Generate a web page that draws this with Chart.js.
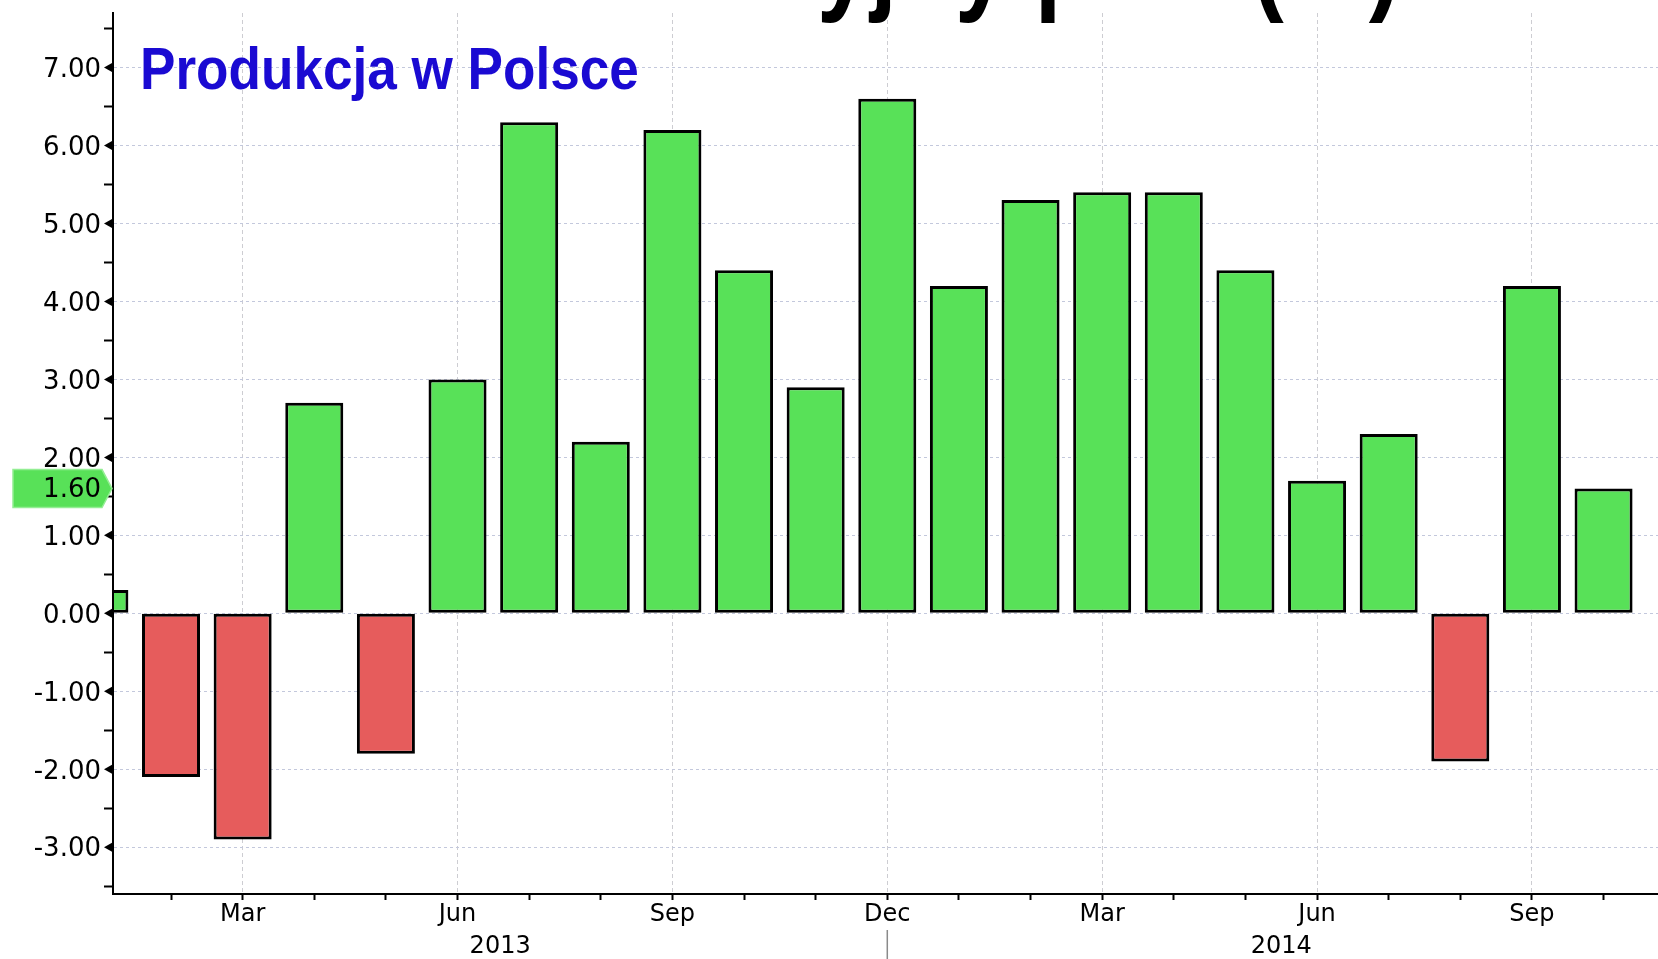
<!DOCTYPE html>
<html>
<head>
<meta charset="utf-8">
<script src="https://cdn.jsdelivr.net/npm/chart.js@4.4.1/dist/chart.umd.min.js"></script>
<style>
html,body{margin:0;padding:0;background:#fff;overflow:hidden}
canvas{display:block}
</style>
</head>
<body>
<canvas id="c" width="1658" height="959"></canvas>
<script>
// ---- data ----
const months = ['2013-01','2013-02','2013-03','2013-04','2013-05','2013-06','2013-07','2013-08','2013-09','2013-10','2013-11','2013-12',
                '2014-01','2014-02','2014-03','2014-04','2014-05','2014-06','2014-07','2014-08','2014-09','2014-10'];
const values = [0.3,-2.1,-2.9,2.7,-1.8,3.0,6.3,2.2,6.2,4.4,2.9,6.6,
                4.2,5.3,5.4,5.4,4.4,1.7,2.3,-1.9,4.2,1.6];
const monthNames = ['Jan','Feb','Mar','Apr','May','Jun','Jul','Aug','Sep','Oct','Nov','Dec'];
const labelledMonths = ['Mar','Jun','Sep','Dec'];
const seriesName = 'Produkcja w Polsce';
const headerText = 'Indeks akcyjny poz. (%)';

// ---- styles ----
const GREEN = '#58e158', RED = '#e65c5c', BLUE = '#1a0ad2';
const AXIS_FONT = "'DejaVu Sans', Verdana, sans-serif";

const points = values.map((v, i) => ({x: i, y: v}));
const monthOf = i => monthNames[parseInt(months[i].slice(5), 10) - 1];

const decorPlugin = {
  id: 'decor',
  afterDatasetsDraw(chart) {
    const {ctx, chartArea: a, scales: {x, y}} = chart;
    ctx.save();
    // axis lines redrawn on top of bars
    ctx.strokeStyle = '#000';
    ctx.lineWidth = 2;
    ctx.beginPath();
    ctx.moveTo(a.left, a.top); ctx.lineTo(a.left, a.bottom + 1);
    ctx.moveTo(a.left - 1, a.bottom); ctx.lineTo(a.right, a.bottom);
    ctx.stroke();
    // triangles at major y ticks
    ctx.fillStyle = '#000';
    y.ticks.forEach(t => {
      if (Number.isInteger(t.value)) {
        const py = y.getPixelForValue(t.value);
        ctx.beginPath();
        ctx.moveTo(a.left - 9, py);
        ctx.lineTo(a.left - 1, py - 4.5);
        ctx.lineTo(a.left - 1, py + 4.5);
        ctx.closePath();
        ctx.fill();
      }
    });
    // last value tag
    const last = values[values.length - 1];
    const ty = y.getPixelForValue(last);
    ctx.beginPath();
    ctx.moveTo(13, ty - 19);
    ctx.lineTo(a.left - 11, ty - 19);
    ctx.lineTo(a.left - 1, ty);
    ctx.lineTo(a.left - 11, ty + 19);
    ctx.lineTo(13, ty + 19);
    ctx.closePath();
    ctx.fillStyle = GREEN;
    ctx.fill();
    ctx.strokeStyle = '#93ee93';
    ctx.lineWidth = 1.5;
    ctx.stroke();
    ctx.fillStyle = '#000';
    ctx.font = "26px " + AXIS_FONT;
    ctx.textAlign = 'right';
    ctx.textBaseline = 'middle';
    ctx.fillText(last.toFixed(2), a.left - 12, ty + 2);

    // year labels and separator
    ctx.font = "24px " + AXIS_FONT;
    ctx.textAlign = 'center';
    ctx.textBaseline = 'middle';
    const years = [...new Set(months.map(m => m.slice(0, 4)))];
    years.forEach(yr => {
      const idx = months.map((m, i) => m.startsWith(yr) ? i : -1).filter(i => i >= 0);
      const lo = Math.max(idx[0], x.min), hi = Math.min(idx[idx.length - 1], x.max);
      ctx.fillText(yr, x.getPixelForValue((lo + hi) / 2), 947);
      const lastIdx = idx[idx.length - 1];
      if (monthOf(lastIdx) === 'Dec') {
        const sx = x.getPixelForValue(lastIdx);
        ctx.strokeStyle = '#8a8a8a';
        ctx.lineWidth = 1.5;
        ctx.beginPath();
        ctx.moveTo(sx, 930); ctx.lineTo(sx, 959);
        ctx.stroke();
      }
    });

    // series label inside plot
    ctx.save();
    ctx.font = "bold 59px 'Liberation Sans', Arial, sans-serif";
    ctx.fillStyle = BLUE;
    ctx.textAlign = 'left';
    ctx.textBaseline = 'alphabetic';
    ctx.translate(140, 89);
    ctx.scale(0.9, 1);
    ctx.fillText(seriesName, 0, 0);
    ctx.restore();

    // cut-off header at the very top
    ctx.save();
    ctx.font = "bold 115px 'Liberation Sans', Arial, sans-serif";
    ctx.fillStyle = '#000';
    ctx.textAlign = 'left';
    ctx.textBaseline = 'alphabetic';
    const pre = headerText.slice(0, headerText.indexOf('('));
    const sc = 0.83;
    const w = ctx.measureText(pre).width * sc;
    ctx.translate(1252 - w, -1);
    ctx.scale(sc, 1);
    ctx.fillText(headerText, 0, 0);
    ctx.restore();

    ctx.restore();
  }
};

new Chart(document.getElementById('c'), {
  type: 'bar',
  data: {
    datasets: [{
      label: seriesName,
      data: points,
      backgroundColor: points.map(p => p.y >= 0 ? GREEN : RED),
      borderColor: '#000',
      borderWidth: 3,
      borderSkipped: false,
      barPercentage: 0.81,
      categoryPercentage: 1.0,
      clip: 0
    }]
  },
  options: {
    responsive: false,
    devicePixelRatio: 1,
    animation: false,
    layout: {padding: {top: 13, right: 0, left: 0, bottom: 0}},
    plugins: {legend: {display: false}, tooltip: {enabled: false}, title: {display: false}},
    scales: {
      x: {
        type: 'linear',
        offset: false,
        min: 0.19,
        max: 21.76,
        ticks: {
          stepSize: 1,
          includeBounds: false,
          autoSkip: false,
          maxRotation: 0,
          padding: 0,
          color: '#000',
          font: {family: AXIS_FONT, size: 24},
          callback: v => {
            if (!Number.isInteger(v) || v < 0 || v >= months.length) return '';
            const n = monthOf(v);
            return labelledMonths.includes(n) ? n : '';
          }
        },
        grid: {
          offset: false,
          color: c => (c.tick && Number.isInteger(c.tick.value) && c.tick.value < months.length && labelledMonths.includes(monthOf(c.tick.value))) ? '#cdcdd2' : 'rgba(0,0,0,0)',
          lineWidth: 1,
          tickColor: '#000',
          tickLength: 6,
          tickWidth: 2
        },
        border: {color: '#000', width: 2, dash: [4, 3]},
        afterFit: s => { s.height = 65; s.paddingLeft = 0; s.paddingRight = 0; }
      },
      y: {
        min: -3.6,
        max: 7.7,
        ticks: {
          stepSize: 0.5,
          includeBounds: false,
          autoSkip: false,
          padding: 3,
          labelOffset: 2.5,
          color: '#000',
          font: {family: AXIS_FONT, size: 26},
          callback: v => Number.isInteger(v) ? v.toFixed(2) : ''
        },
        grid: {
          color: c => (c.tick && Number.isInteger(c.tick.value)) ? '#c3c8dc' : 'rgba(0,0,0,0)',
          lineWidth: 1,
          tickColor: c => (c.tick && Number.isInteger(c.tick.value)) ? 'rgba(0,0,0,0)' : '#000',
          tickLength: 9,
          tickWidth: 2
        },
        border: {color: '#000', width: 2, dash: [3, 3]},
        afterFit: s => { s.width = 113; s.paddingTop = 0; s.paddingBottom = 0; }
      }
    }
  },
  plugins: [decorPlugin]
});
</script>
</body>
</html>
